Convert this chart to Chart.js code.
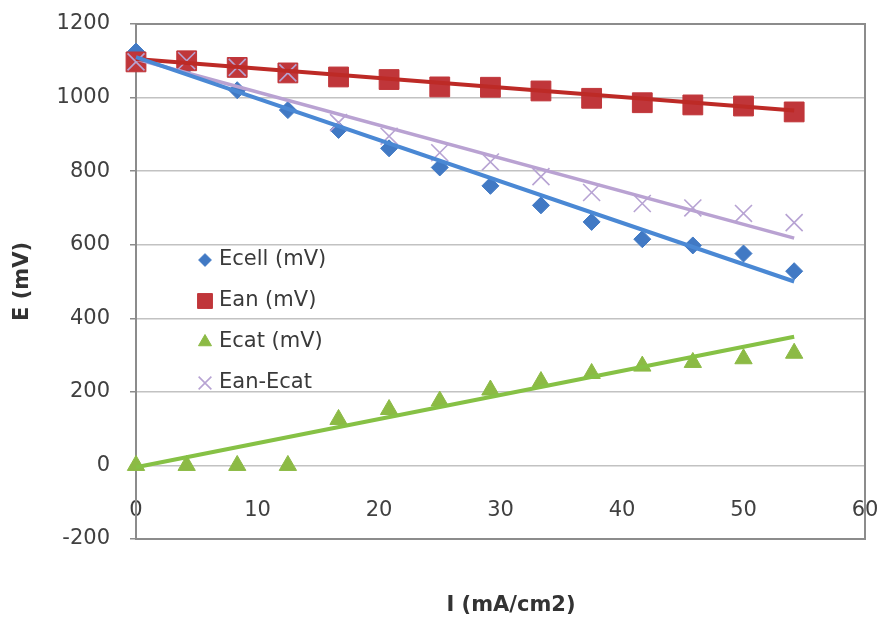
<!DOCTYPE html>
<html>
<head>
<meta charset="utf-8">
<script src="https://cdn.jsdelivr.net/npm/chart.js@4/dist/chart.umd.min.js"></script>
<style>
  html, body { margin: 0; padding: 0; background: #fff; }
  #wrap { width: 880px; height: 617px; position: relative; }
</style>
</head>
<body>
<div id="wrap"><canvas id="myChart"></canvas></div>
<script>
// current density (mA/cm2)
var xValues = [0, 4.17, 8.33, 12.5, 16.67, 20.83, 25, 29.17, 33.33, 37.5, 41.67, 45.83, 50, 54.17];
// potentials (mV)
var ecell   = [1125, 1085, 1020, 966, 912, 862, 810, 760, 707, 662, 615, 598, 576, 528];
var ean     = [1097, 1100, 1082, 1067, 1056, 1049, 1029, 1028, 1018, 998, 986, 980, 977, 961];
var ecat    = [0, 0, 0, 0, 125, 152, 175, 205, 228, 250, 270, 280, 290, 305];
var eanEcat = [1097, 1100, 1082, 1067, 932, 895, 850, 825, 785, 742, 712, 700, 685, 660];

// linear trendlines (start / end)
var trendX        = [0, 54.17];
var ecellTrend    = [1110, 500];
var eanTrend      = [1105, 965];
var ecatTrend     = [-5, 350];
var eanEcatTrend  = [1105, 618];

var seriesNames = ['Ecell (mV)', 'Ean (mV)', 'Ecat (mV)', 'Ean-Ecat'];
var yTicks = [-200, 0, 200, 400, 600, 800, 1000, 1200];
var xTicks = [0, 10, 20, 30, 40, 50, 60];
var xTitle = 'I (mA/cm2)';
var yTitle = 'E (mV)';

var FONT = "'DejaVu Sans', sans-serif";

function pts(xs, ys) {
    var out = [];
    for (var i = 0; i < xs.length; i++) out.push({x: xs[i], y: ys[i]});
    return out;
}

function markers(label, ys, style, radius, color, order, bw) {
    return {
        label: label,
        data: pts(xValues, ys),
        showLine: false,
        pointStyle: style,
        pointRadius: radius,
        pointHoverRadius: radius,
        pointBackgroundColor: color,
        pointBorderColor: color,
        pointBorderWidth: bw,
        backgroundColor: color,
        borderColor: color,
        order: order,
        clip: false
    };
}

function trend(ys, color, width) {
    return {
        label: 'trend',
        isTrend: true,
        data: pts(trendX, ys),
        showLine: true,
        borderColor: color,
        borderWidth: width,
        pointRadius: 0,
        fill: false,
        order: 0,
        clip: false
    };
}

var BLUE = '#4179c4', RED = '#c0363a', GREEN = '#8cba45', LAV = '#b7a3d3';

var datasets = [
    markers(seriesNames[0], ecell, 'rectRot', 8.5, BLUE, 4, 1),
    markers(seriesNames[1], ean, 'rect', 14, RED, 3, 1),
    markers(seriesNames[2], ecat, 'triangle', 10, GREEN, 2, 1),
    markers(seriesNames[3], eanEcat, 'crossRot', 12, LAV, 1, 1.6),
    trend(ecellTrend, '#4a88d4', 4),
    trend(eanTrend, '#bd2a26', 4),
    trend(ecatTrend, '#86c145', 4),
    trend(eanEcatTrend, '#b9a2d2', 3.5)
];

function noPad(scale) {
    scale.paddingTop = 0;
    scale.paddingBottom = 0;
    scale.paddingLeft = 0;
    scale.paddingRight = 0;
}

// plot-area box, legend inside the plot and the x title
var extras = {
    id: 'extras',
    beforeDatasetsDraw: function(chart) {
        var a = chart.chartArea, ctx = chart.ctx;
        ctx.save();
        ctx.strokeStyle = '#8c8c8c';
        ctx.lineWidth = 2;
        ctx.strokeRect(a.left, a.top, a.right - a.left, a.bottom - a.top);
        ctx.restore();
    },
    afterDraw: function(chart) {
        var ctx = chart.ctx;
        ctx.save();
        var row = 0;
        chart.data.datasets.forEach(function(ds) {
            if (ds.isTrend) return;
            var y = 260 + row * 41;
            ctx.fillStyle = ds.pointBackgroundColor;
            ctx.strokeStyle = ds.pointBorderColor;
            ctx.lineWidth = ds.pointBorderWidth;
            Chart.helpers.drawPoint(ctx, {
                pointStyle: ds.pointStyle,
                radius: ds.pointRadius * 0.75,
                rotation: 0,
                borderWidth: ds.pointBorderWidth
            }, 205, y);
            ctx.fillStyle = '#3a3a3a';
            ctx.font = '21px ' + FONT;
            ctx.textAlign = 'left';
            ctx.textBaseline = 'middle';
            ctx.fillText(ds.label, 219, y);
            row++;
        });
        ctx.font = 'bold 21px ' + FONT;
        ctx.fillStyle = '#333';
        ctx.textAlign = 'center';
        ctx.textBaseline = 'middle';
        ctx.fillText(xTitle, 511, 606);
        ctx.restore();
    }
};

var chart = new Chart(document.getElementById('myChart'), {
    type: 'scatter',
    data: { datasets: datasets },
    plugins: [extras],
    options: {
        responsive: true,
        maintainAspectRatio: false,
        animation: false,
        layout: { padding: { top: 24, right: 14, bottom: 78, left: 0 } },
        plugins: {
            legend: { display: false },
            tooltip: { enabled: false }
        },
        scales: {
            x: {
                type: 'linear',
                position: { y: 0 },
                min: 0,
                max: 60,
                afterBuildTicks: function(scale) {
                    scale.ticks = xTicks.map(function(v) { return {value: v}; });
                },
                afterFit: noPad,
                grid: { display: false, drawTicks: false },
                border: { display: false },
                ticks: {
                    padding: 33,
                    color: '#404040',
                    font: { family: FONT, size: 21 },
                    callback: function(v) { return String(v); }
                }
            },
            y: {
                type: 'linear',
                position: 'left',
                min: -200,
                max: 1200,
                afterBuildTicks: function(scale) {
                    scale.ticks = yTicks.map(function(v) { return {value: v}; });
                },
                afterFit: function(scale) { noPad(scale); scale.width = 136; },
                grid: {
                    color: '#c2c2c2',
                    lineWidth: 1.5,
                    tickLength: 6,
                    tickColor: '#8c8c8c'
                },
                border: { color: '#8c8c8c', width: 2 },
                ticks: {
                    padding: 20,
                    color: '#404040',
                    font: { family: FONT, size: 21 },
                    callback: function(v) { return String(v); }
                },
                title: {
                    display: true,
                    text: yTitle,
                    color: '#333',
                    padding: { top: 10, bottom: 0 },
                    font: { family: FONT, size: 21, weight: 'bold' }
                }
            }
        }
    }
});
</script>
</body>
</html>
